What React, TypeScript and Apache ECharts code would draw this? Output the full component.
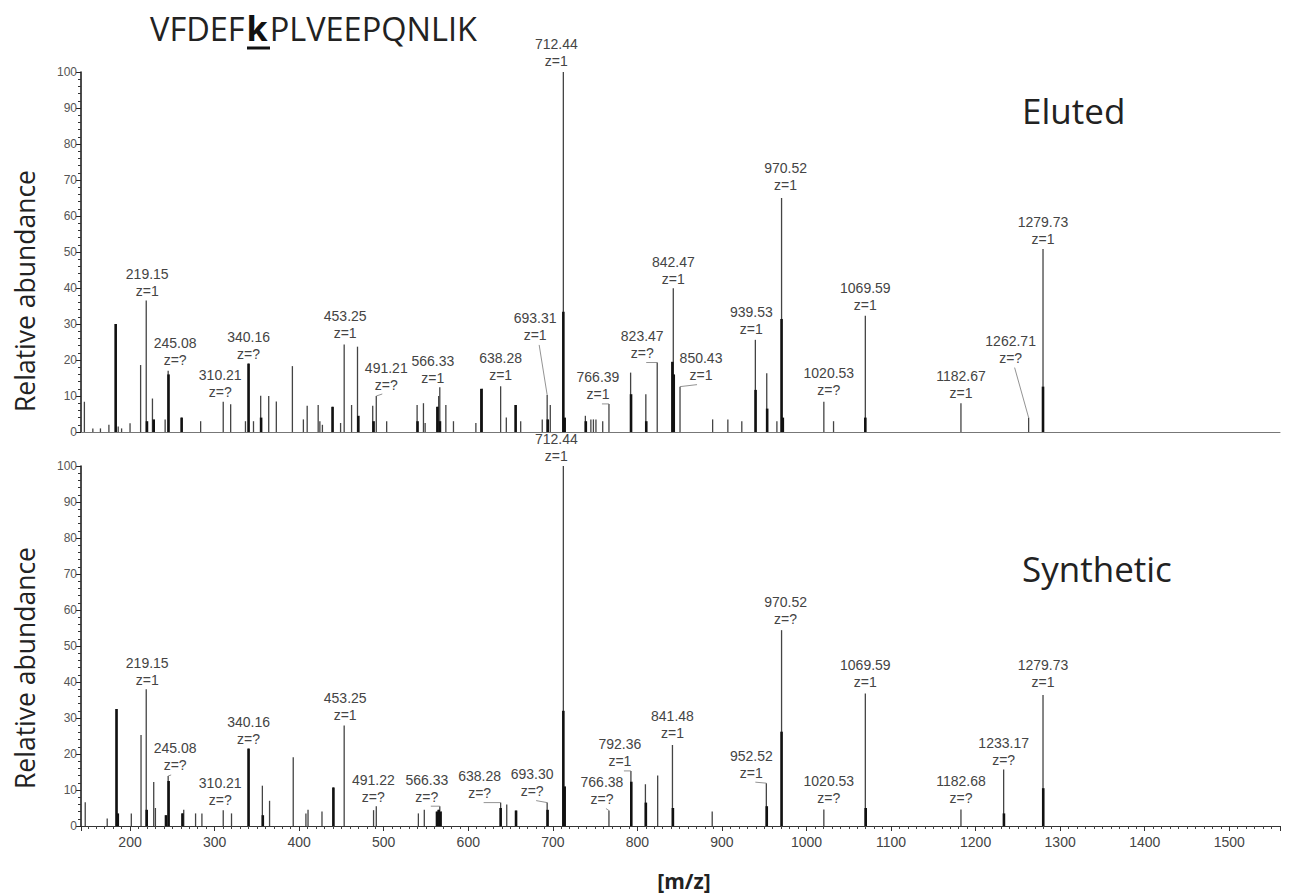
import React, { useEffect, useRef } from "react";
import * as echarts from "echarts";

// ---------- DATA ----------
const xRange = [142, 1560];
const yTicks = [0, 10, 20, 30, 40, 50, 60, 70, 80, 90, 100];

// Eluted spectrum: thin sticks [m/z, relative abundance]
const elutedPeaks: number[][] = [
  [146, 8.4], [156, 1], [165, 1], [175, 2], [183, 30], [186, 1.5], [190, 1], [200, 2.4],
  [212.5, 18.6], [219.15, 36.5], [226.5, 9.3], [241.5, 3.5], [245.08, 17], [261, 4],
  [283.5, 3], [310.21, 8.4], [319, 7.7], [336.5, 3], [340.16, 19], [346, 3], [354.5, 10.1],
  [364, 10], [373, 8.5], [392, 18.3], [405, 3.5], [409.5, 7.3], [422.5, 7.5], [424.5, 3],
  [427.5, 2], [439.5, 7], [449, 2.5], [453.25, 24.3], [462, 7.5], [469, 23.7], [487, 7.3],
  [491.21, 10], [503.5, 3], [539.5, 7.5], [547, 8], [549, 2.5], [563.5, 7], [565, 10],
  [566.33, 12.4], [573.5, 7.5], [582.5, 3], [609, 2.5], [616.5, 12], [638.28, 12.7],
  [645, 4], [656, 7.5], [662, 3], [687.5, 3.5], [693.31, 10.3], [697, 7.5], [712.44, 100],
  [738.5, 4.5], [745, 3.5], [748, 3.5], [751, 3.5], [759, 3], [766.39, 7.8], [792, 16.5],
  [810, 10.5], [823.47, 19.3], [842.47, 39.9], [850.43, 12.6], [889, 3.5], [907, 3.5],
  [923.5, 3], [939.53, 25.6], [953, 16.3], [965, 3], [970.52, 65], [1020.53, 8.4],
  [1032, 3], [1069.59, 32.3], [1182.67, 8], [1262.71, 4], [1279.73, 50.8],
];
// Eluted spectrum: heavy (overlapping) stick portions
const elutedHeavy: number[][] = [
  [183, 30], [220, 3], [228, 3.5], [245.5, 16], [261, 4], [340.16, 19], [355, 4],
  [439.5, 7], [470, 4.5], [488, 3], [540, 3], [563.5, 7], [566.5, 3], [615.5, 12],
  [656, 7.5], [694, 3.5], [712.44, 33.4], [714, 4], [739, 3], [792.5, 10.5], [810.5, 3],
  [841.4, 19.5], [843, 16], [939.8, 11.7], [953.5, 6.5], [970.52, 31.4], [972, 4],
  [1069.59, 4], [1279.73, 12.6],
];
// Eluted annotations [m/z, abundance, charge]
const elutedLabels: (number | string)[][] = [
  [219.15, 36.5, "1"], [245.08, 17, "?"], [310.21, 8.4, "?"], [340.16, 19, "?"],
  [453.25, 24.3, "1"], [491.21, 10, "?"], [566.33, 12.4, "1"], [638.28, 12.7, "1"],
  [693.31, 10.3, "1"], [712.44, 100, "1"], [766.39, 7.8, "1"], [823.47, 19.3, "?"],
  [842.47, 39.9, "1"], [850.43, 12.6, "1"], [939.53, 25.6, "1"], [970.52, 65, "1"],
  [1020.53, 8.4, "?"], [1069.59, 32.3, "1"], [1182.67, 8, "1"], [1262.71, 4, "?"],
  [1279.73, 50.8, "1"],
];

// Synthetic spectrum
const syntheticPeaks: number[][] = [
  [147, 6.6], [173, 2.1], [184, 32.5], [201.5, 3.5], [213, 25.3], [219.15, 38], [228, 12.2],
  [230, 5], [242.5, 3], [245.08, 13.9], [262, 3.5], [263.5, 4.5], [277.5, 3.5], [285, 3.5],
  [310.21, 4.4], [320, 3.5], [340.16, 21.5], [356.5, 11.2], [365, 7], [393, 19.1],
  [408, 3.5], [410.5, 4.5], [427, 4], [440.5, 10.7], [453.25, 27.9], [488, 4.4],
  [491.22, 5.5], [541, 3.5], [548, 4.5], [563, 4], [565, 4.5], [566.33, 5.5], [568, 4],
  [638.28, 6.5], [645.5, 6], [656.5, 4.3], [693.3, 6.5], [712.44, 100], [766.38, 4.3],
  [792.36, 15.3], [809.5, 11.6], [824, 14], [841.48, 22.5], [888.5, 4], [952.52, 11.9],
  [970.52, 54.4], [1020.53, 4.6], [1069.59, 36.8], [1182.68, 4.6], [1233.17, 15.7],
  [1279.73, 36.4],
];
const syntheticHeavy: number[][] = [
  [184, 32.5], [185.5, 3.5], [219.7, 4.5], [242.5, 3], [245.6, 12.5], [262, 3.5],
  [340.16, 21.5], [357, 3], [440.5, 10.7], [563, 4], [565, 4.5], [567, 4], [638.28, 5],
  [656.5, 4.3], [693.8, 4.5], [712.44, 32], [714, 11], [792.8, 12.3], [810, 6.5],
  [842, 5], [953, 5.5], [970.52, 26.2], [1070, 5], [1233.5, 3.5], [1280, 10.5],
];
const syntheticLabels: (number | string)[][] = [
  [219.15, 38, "1"], [245.08, 13.9, "?"], [310.21, 4.4, "?"], [340.16, 21.5, "?"],
  [453.25, 27.9, "1"], [491.22, 5.5, "?"], [566.33, 5.5, "?"], [638.28, 6.5, "?"],
  [693.3, 6.5, "?"], [712.44, 100, "1"], [766.38, 4.3, "?"], [792.36, 15.3, "1"],
  [841.48, 22.5, "1"], [952.52, 11.9, "1"], [970.52, 54.4, "?"], [1020.53, 4.6, "?"],
  [1069.59, 36.8, "1"], [1182.68, 4.6, "?"], [1233.17, 15.7, "?"], [1279.73, 36.4, "1"],
];

// ---------- LAYOUT (label offsets in px: dx, dy, leader line) ----------
const elutedLabelLayout = [
  [1, 0, 0], [7, -1, 0], [-3, 0, 0], [0, 0, 0], [1, -2, 0], [10, -2, 1], [-7, 0, 0],
  [0, -2, 0], [-12, -50, 1], [-7, -2, 0], [-11, 0, 1], [-15, 0, 1], [0, 0, 0], [21, -2, 1],
  [-4, -1, 0], [4, -4, 0], [5, -2, 0], [0, -1, 0], [0, -1, 0], [-18, -50, 1], [0, -1, 0],
];
const syntheticLabelLayout = [
  [1, 0, 0], [7, -1, 1], [-3, -1, 0], [0, 0, 0], [1, -1, 0], [-3, 0, 0], [-13, 0, 1],
  [-21, 0, 1], [-15, -2, 1], [-7, -1, 0], [-7, -2, 1], [-11, 0, 1], [0, -3, 0], [-15, -1, 1],
  [4, -2, 0], [5, -2, 0], [0, -2, 0], [0, -2, 0], [0, 0, 0], [0, -3, 0],
];

const LABEL_FONT = "Liberation Sans";
const TEXT_FONT = "Open Sans";

function stickSeries(data: number[][], idx: number, color: string, width: number) {
  return {
    type: "custom",
    xAxisIndex: idx,
    yAxisIndex: idx,
    data,
    encode: { x: 0, y: 1 },
    silent: true,
    renderItem: (_p: any, api: any) => {
      const m = api.value(0);
      const v = api.value(1);
      const p0 = api.coord([m, 0]);
      const p1 = api.coord([m, v]);
      return {
        type: "line",
        shape: { x1: p0[0], y1: p0[1], x2: p1[0], y2: p1[1] },
        style: { stroke: color, lineWidth: width },
      };
    },
  };
}

function labelSeries(labels: (number | string)[][], layout: number[][], idx: number) {
  return {
    type: "custom",
    xAxisIndex: idx,
    yAxisIndex: idx,
    data: labels.map((l) => [l[0], l[1]]),
    encode: { x: 0, y: 1 },
    silent: true,
    z: 5,
    renderItem: (p: any, api: any) => {
      const i = p.dataIndex;
      const m = api.value(0);
      const v = api.value(1);
      const pt = api.coord([m, v]);
      const lay = layout[i] || [0, -2, 0];
      const lx = pt[0] + lay[0];
      const ly = pt[1] - 1 + lay[1];
      const txt = (labels[i][0] as number).toFixed(2) + "\nz=" + labels[i][2];
      const children: any[] = [
        {
          type: "text",
          x: lx,
          y: ly,
          style: {
            text: txt,
            fill: "#444",
            fontSize: 14,
            fontFamily: LABEL_FONT,
            lineHeight: 17,
            align: "center",
            verticalAlign: "bottom",
          },
        },
      ];
      if (lay[2]) {
        children.push({
          type: "line",
          shape: { x1: lx + (lay[0] < 0 ? 4 : -4), y1: ly + 1, x2: pt[0], y2: pt[1] },
          style: { stroke: "#777", lineWidth: 0.8 },
        });
      }
      return { type: "group", children };
    },
  };
}

function xAxisCfg(idx: number, showLabels: boolean) {
  return {
    type: "value",
    gridIndex: idx,
    min: xRange[0],
    max: xRange[1],
    splitNumber: 14,
    axisLine: { show: true, onZero: true, lineStyle: { color: showLabels ? "#333" : "#777", width: 1 } },
    axisTick: { show: showLabels, length: 5, lineStyle: { color: "#333" } },
    minorTick: { show: showLabels, splitNumber: 10, length: 3, lineStyle: { color: "#444" } },
    axisLabel: {
      show: showLabels,
      showMinLabel: false,
      showMaxLabel: false,
      color: "#444",
      fontSize: 14,
      fontFamily: LABEL_FONT,
      margin: 9,
      formatter: (v: number) => (v % 100 === 0 ? String(v) : ""),
    },
    splitLine: { show: false },
    minorSplitLine: { show: false },
  };
}

function yAxisCfg(idx: number) {
  return {
    type: "value",
    gridIndex: idx,
    min: yTicks[0],
    max: yTicks[yTicks.length - 1],
    interval: 10,
    axisLine: { show: true, lineStyle: { color: "#111", width: 1.5 } },
    axisTick: { show: true, length: 5, lineStyle: { color: "#222" } },
    minorTick: { show: true, splitNumber: 5, length: 3, lineStyle: { color: "#333" } },
    axisLabel: { color: "#555", fontSize: 12, fontFamily: LABEL_FONT, margin: 4 },
    splitLine: { show: false },
  };
}

export default function App() {
  const ref = useRef<HTMLDivElement>(null);
  useEffect(() => {
    document.body.style.margin = "0";
    if (!ref.current) return;
    const chart = echarts.init(ref.current, undefined, { renderer: "svg" });
    const option: any = {
      animation: false,
      backgroundColor: "#fff",
      grid: [
        { left: 81, top: 72, width: 1199, height: 360 },
        { left: 81, top: 466, width: 1199, height: 360 },
      ],
      xAxis: [xAxisCfg(0, false), xAxisCfg(1, true)],
      yAxis: [yAxisCfg(0), yAxisCfg(1)],
      series: [
        stickSeries(elutedPeaks, 0, "#444", 1.3),
        stickSeries(elutedHeavy, 0, "#111", 2.6),
        labelSeries(elutedLabels, elutedLabelLayout, 0),
        stickSeries(syntheticPeaks, 1, "#444", 1.3),
        stickSeries(syntheticHeavy, 1, "#111", 2.6),
        labelSeries(syntheticLabels, syntheticLabelLayout, 1),
      ],
      graphic: [
        {
          type: "text",
          left: 150,
          top: 11,
          style: {
            text: "{a|VFDEF}{b|k}{a|PLVEEPQNLIK}",
            rich: {
              a: { fontSize: 32.5, fontFamily: TEXT_FONT, fill: "#222" },
              b: { fontSize: 34, fontFamily: TEXT_FONT, fontWeight: "bold", fill: "#111", padding: [0, 2, 0, 2] },
            },
          },
        },
        {
          type: "line",
          shape: { x1: 247, y1: 48, x2: 270, y2: 48 },
          style: { stroke: "#111", lineWidth: 3 },
        },
        {
          type: "text",
          left: 1022,
          top: 93,
          style: { text: "Eluted", fontSize: 35, fontFamily: TEXT_FONT, fill: "#222" },
        },
        {
          type: "text",
          left: 1022,
          top: 551,
          style: { text: "Synthetic", fontSize: 35, fontFamily: TEXT_FONT, fill: "#222" },
        },
        {
          type: "text",
          x: 25,
          y: 291,
          rotation: Math.PI / 2,
          style: {
            text: "Relative abundance",
            fontSize: 26.5,
            fontFamily: TEXT_FONT,
            fill: "#222",
            align: "center",
            verticalAlign: "middle",
          },
        },
        {
          type: "text",
          x: 25,
          y: 668,
          rotation: Math.PI / 2,
          style: {
            text: "Relative abundance",
            fontSize: 26.5,
            fontFamily: TEXT_FONT,
            fill: "#222",
            align: "center",
            verticalAlign: "middle",
          },
        },
        {
          type: "text",
          x: 684,
          y: 881,
          style: {
            text: "[m/z]",
            fontSize: 21,
            fontWeight: "bold",
            fontFamily: TEXT_FONT,
            fill: "#222",
            align: "center",
            verticalAlign: "middle",
          },
        },
      ],
    };
    chart.setOption(option);
    return () => chart.dispose();
  }, []);
  return <div ref={ref} style={{ width: 1294, height: 894 }} />;
}
